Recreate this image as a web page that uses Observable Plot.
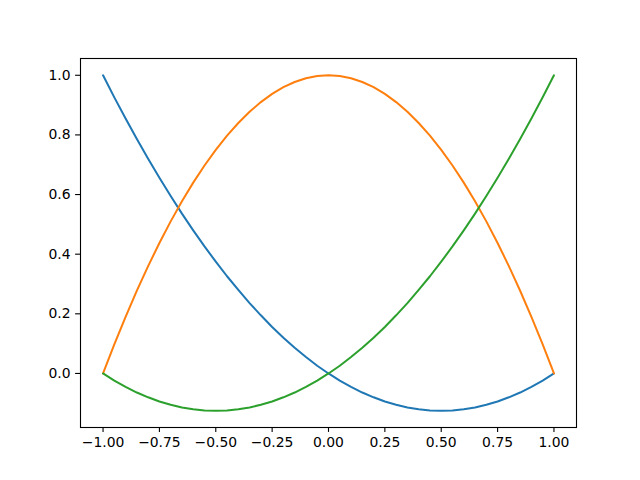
<!DOCTYPE html>
<html>
<head>
<meta charset="utf-8">
<script src="https://cdn.jsdelivr.net/npm/d3@7"></script>
<script src="https://cdn.jsdelivr.net/npm/@observablehq/plot@0.6"></script>
<style>
  html, body { margin: 0; padding: 0; background: white; }
</style>
</head>
<body>
<div id="chart"></div>
<script>
const xs = [-1, -0.95, -0.9, -0.85, -0.8, -0.75, -0.7, -0.65, -0.6, -0.55, -0.5, -0.45, -0.4, -0.35, -0.3, -0.25, -0.2, -0.15, -0.1, -0.05, 0,
            0.05, 0.1, 0.15, 0.2, 0.25, 0.3, 0.35, 0.4, 0.45, 0.5, 0.55, 0.6, 0.65, 0.7, 0.75, 0.8, 0.85, 0.9, 0.95, 1];
const seriesA = [1, 0.926, 0.855, 0.786, 0.72, 0.656, 0.595, 0.536, 0.48, 0.426, 0.375, 0.326, 0.28, 0.236, 0.195, 0.156, 0.12, 0.086, 0.055, 0.026, 0,
              -0.024, -0.045, -0.064, -0.08, -0.094, -0.105, -0.114, -0.12, -0.124, -0.125, -0.124, -0.12, -0.114, -0.105, -0.094, -0.08, -0.064, -0.045, -0.024, 0];
const seriesB = [0, 0.0975, 0.19, 0.2775, 0.36, 0.4375, 0.51, 0.5775, 0.64, 0.6975, 0.75, 0.7975, 0.84, 0.8775, 0.91, 0.9375, 0.96, 0.9775, 0.99, 0.9975, 1,
                0.9975, 0.99, 0.9775, 0.96, 0.9375, 0.91, 0.8775, 0.84, 0.7975, 0.75, 0.6975, 0.64, 0.5775, 0.51, 0.4375, 0.36, 0.2775, 0.19, 0.0975, 0];
const seriesC = [0, -0.024, -0.045, -0.064, -0.08, -0.094, -0.105, -0.114, -0.12, -0.124, -0.125, -0.124, -0.12, -0.114, -0.105, -0.094, -0.08, -0.064, -0.045, -0.024, 0,
               0.026, 0.055, 0.086, 0.12, 0.156, 0.195, 0.236, 0.28, 0.326, 0.375, 0.426, 0.48, 0.536, 0.595, 0.656, 0.72, 0.786, 0.855, 0.926, 1];
const xTicks = [-1, -0.75, -0.5, -0.25, 0, 0.25, 0.5, 0.75, 1];
const yTicks = [0, 0.2, 0.4, 0.6, 0.8, 1.0];

const series = [
  {name: "A", values: seriesA, color: "#1f77b4"},
  {name: "B", values: seriesB, color: "#ff7f0e"},
  {name: "C", values: seriesC, color: "#2ca02c"}
];
const rows = series.flatMap(s => xs.map((x, i) => ({x, y: s.values[i], name: s.name})));

const chart = Plot.plot({
  width: 640,
  height: 480,
  marginLeft: 80,
  marginRight: 64,
  marginTop: 58,
  marginBottom: 53,
  style: {fontFamily: "DejaVu Sans", fontSize: "13.9px", background: "white", color: "black"},
  x: {domain: [-1.1, 1.1]},
  y: {domain: [-0.18125, 1.05625]},
  color: {type: "ordinal", domain: series.map(s => s.name), range: series.map(s => s.color)},
  marks: [
    Plot.line(rows, {x: "x", y: "y", z: "name", stroke: d => d.name, strokeWidth: 2}),
    Plot.frame({stroke: "black", strokeWidth: 1.1}),
    Plot.axisX({ticks: xTicks, tickFormat: d3.format(".2f"), tickSize: 4.9, tickPadding: 5, strokeWidth: 1.1, label: null}),
    Plot.axisY({ticks: yTicks, tickFormat: d3.format(".1f"), tickSize: 4.9, tickPadding: 5, strokeWidth: 1.1, label: null})
  ]
});
document.getElementById("chart").appendChild(chart);
</script>
</body>
</html>
